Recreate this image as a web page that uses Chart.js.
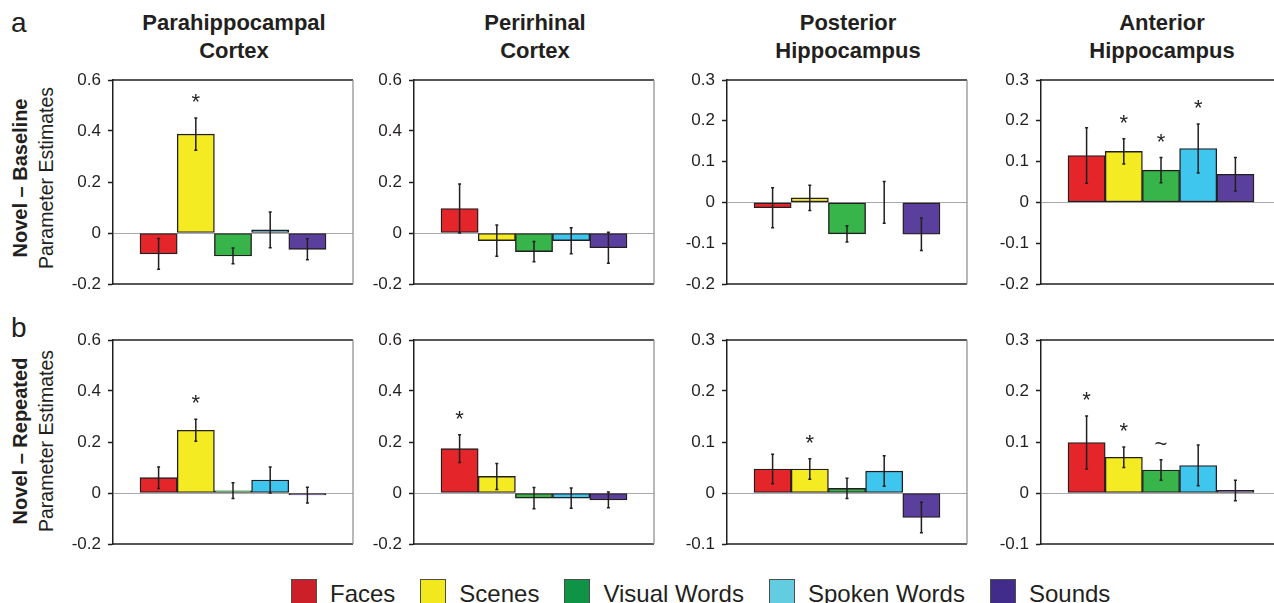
<!DOCTYPE html>
<html>
<head>
<meta charset="utf-8">
<script src="https://cdn.jsdelivr.net/npm/chart.js@4.4.1/dist/chart.umd.min.js"></script>
<style>
  body{margin:0;width:1274px;height:603px;overflow:hidden;background:#fff;position:relative;
       font-family:"Liberation Sans",Arial,sans-serif;color:#231f20}
  .abs{position:absolute}
  .title{position:absolute;width:300px;text-align:center;font-weight:bold;font-size:22px;line-height:28px;top:9px}
  .rowlab{position:absolute;width:260px;height:48px;text-align:center;line-height:24px;transform:rotate(-90deg);white-space:nowrap}
  .rowlab b{font-size:20px}
  .rowlab span{font-size:19.5px}
  .letter{position:absolute;left:11px;font-size:28px;line-height:28px}
  #legend{position:absolute;left:291px;top:579px;display:flex;white-space:nowrap}
  #legend .item{display:flex;align-items:flex-start;margin-right:25px}
  #legend .sw{width:26px;height:26px;box-sizing:border-box;border:1px solid #4d4d4d;margin-right:13px}
  #legend .tx{font-size:24px;line-height:24px;margin-top:3px}
</style>
</head>
<body>
<script>
// categories / series
const categories = ['Faces', 'Scenes', 'Visual Words', 'Spoken Words', 'Sounds'];
const regions = [['Parahippocampal', 'Cortex'], ['Perirhinal', 'Cortex'], ['Posterior', 'Hippocampus'], ['Anterior', 'Hippocampus']];
const contrasts = [['Novel – Baseline', 'Parameter Estimates'], ['Novel – Repeated', 'Parameter Estimates']];
const rowLetters = ['a', 'b'];

// row a: novel - baseline (one list per region, in category order)
const baseMeans = [
  [-0.082, 0.388, -0.090, 0.012, -0.064],
  [0.096, -0.030, -0.073, -0.030, -0.058],
  [-0.013, 0.011, -0.077, 0.000, -0.078],
  [0.115, 0.125, 0.079, 0.132, 0.069]
];
const baseErrs = [
  [0.060, 0.063, 0.031, 0.070, 0.041],
  [0.096, 0.061, 0.040, 0.051, 0.061],
  [0.049, 0.031, 0.020, 0.051, 0.040],
  [0.068, 0.031, 0.031, 0.060, 0.041]
];
const baseSig = [
  ['', '*', '', '', ''],
  ['', '', '', '', ''],
  ['', '', '', '', ''],
  ['', '*', '*', '*', '']
];

// row b: novel - repeated
const repMeans = [
  [0.060, 0.246, 0.009, 0.051, -0.008],
  [0.174, 0.065, -0.020, -0.020, -0.027],
  [0.047, 0.047, 0.009, 0.043, -0.048],
  [0.099, 0.070, 0.045, 0.054, 0.005]
];
const repErrs = [
  [0.042, 0.043, 0.031, 0.051, 0.031],
  [0.054, 0.051, 0.042, 0.040, 0.031],
  [0.029, 0.020, 0.020, 0.030, 0.030],
  [0.052, 0.020, 0.020, 0.040, 0.020]
];
const repSig = [
  ['', '*', '', '', ''],
  ['*', '', '', '', ''],
  ['', '*', '', '', ''],
  ['*', '*', '~', '', '']
];

// y tick values
const baseTicks = [[-0.2, 0, 0.2, 0.4, 0.6], [-0.2, 0, 0.2, 0.4, 0.6], [-0.2, -0.1, 0, 0.1, 0.2, 0.3], [-0.2, -0.1, 0, 0.1, 0.2, 0.3]];
const repTicks = [[-0.2, 0, 0.2, 0.4, 0.6], [-0.2, 0, 0.2, 0.4, 0.6], [-0.1, 0, 0.1, 0.2, 0.3], [-0.1, 0, 0.1, 0.2, 0.3]];

const barColors = ['#e4252a', '#f5eb22', '#37b44a', '#3ec6ee', '#5b3f9d'];
const legendColors = ['#cb2029', '#f2e81d', '#0f9347', '#62cce0', '#412c8c'];

// layout
const FONT = '"Liberation Sans", Arial, sans-serif';
const INK = '#231f20';
const plotLefts = [113, 414, 727, 1041];
const plotTops = [80, 340];
const PLOT_W = 240, PLOT_H = 204, AXIS_W = 70, PAD = 20;

function el(tag, cls, parent) {
  const e = document.createElement(tag);
  if (cls) e.className = cls;
  (parent || document.body).appendChild(e);
  return e;
}

function makePanel(row, col, means, errs, sig, ticks) {
  const wrap = el('div', 'abs');
  const w = AXIS_W + PLOT_W + 2, h = PLOT_H + 2 * PAD;
  wrap.style.left = (plotLefts[col] - AXIS_W) + 'px';
  wrap.style.top = (plotTops[row] - PAD) + 'px';
  const cv = el('canvas', null, wrap);
  cv.width = w; cv.height = h;

  const frame = {
    id: 'frame',
    beforeDatasetsDraw(chart) {
      const {ctx, chartArea: a} = chart;
      ctx.save();
      ctx.lineWidth = 1.5;
      ctx.strokeStyle = INK;
      ctx.beginPath();
      ctx.moveTo(a.left, a.top); ctx.lineTo(a.right, a.top);
      ctx.moveTo(a.left, a.bottom); ctx.lineTo(a.right, a.bottom);
      ctx.stroke();
      ctx.strokeStyle = '#8a8a8a';
      ctx.lineWidth = 1.2;
      ctx.beginPath();
      ctx.moveTo(a.right, a.top); ctx.lineTo(a.right, a.bottom);
      ctx.stroke();
      ctx.restore();
    }
  };

  const errorBars = {
    id: 'errorBars',
    afterDatasetsDraw(chart) {
      const ctx = chart.ctx, y = chart.scales.y;
      const meta = chart.getDatasetMeta(0);
      ctx.save();
      ctx.strokeStyle = INK;
      ctx.fillStyle = INK;
      ctx.lineWidth = 1.5;
      meta.data.forEach((bar, i) => {
        const v = means[i], e = errs[i];
        const top = y.getPixelForValue(v + e), bot = y.getPixelForValue(v - e);
        ctx.beginPath();
        ctx.moveTo(bar.x, top); ctx.lineTo(bar.x, bot);
        ctx.moveTo(bar.x - 1.5, top); ctx.lineTo(bar.x + 1.5, top);
        ctx.moveTo(bar.x - 1.5, bot); ctx.lineTo(bar.x + 1.5, bot);
        ctx.stroke();
        if (sig[i]) {
          ctx.font = '22px ' + FONT;
          ctx.textAlign = 'center';
          ctx.textBaseline = 'alphabetic';
          ctx.fillText(sig[i], bar.x, top - 9);
        }
      });
      ctx.restore();
    }
  };

  new Chart(cv, {
    type: 'bar',
    data: {
      labels: categories,
      datasets: [{
        data: means.map((v, i) => ({x: i, y: v})),
        backgroundColor: barColors,
        borderColor: INK,
        borderWidth: 1.4,
        borderSkipped: false,
        barPercentage: 1,
        categoryPercentage: 1
      }]
    },
    options: {
      responsive: false,
      animation: false,
      devicePixelRatio: 1,
      layout: {padding: {top: PAD, bottom: PAD, left: 0, right: 2}},
      plugins: {legend: {display: false}, tooltip: {enabled: false}},
      scales: {
        x: {type: 'linear', min: -1.226, max: 5.226, offset: false, display: false},
        y: {
          min: ticks[0], max: ticks[ticks.length - 1],
          afterBuildTicks: s => { s.ticks = ticks.map(v => ({value: v})); },
          afterFit: s => { s.width = AXIS_W; },
          ticks: {
            padding: 7, color: INK, font: {family: FONT, size: 17},
            callback: v => v === 0 ? '0' : v.toFixed(1)
          },
          grid: {
            color: c => (c.tick && c.tick.value === 0) ? '#a7a9ac' : 'rgba(0,0,0,0)',
            lineWidth: 1, drawTicks: true, tickLength: 5, tickColor: INK, tickWidth: 1.5
          },
          border: {display: true, color: INK, width: 1.5}
        }
      }
    },
    plugins: [frame, errorBars]
  });
}

// titles
regions.forEach((r, c) => {
  const t = el('div', 'title');
  t.style.left = (plotLefts[c] + PLOT_W / 2 - 150 + 1) + 'px';
  t.innerHTML = r[0] + '<br>' + r[1];
});

// row labels and letters
const rowCenters = [178, 441];
const letterTops = [9, 314];
contrasts.forEach((lab, r) => {
  const d = el('div', 'rowlab');
  d.style.left = (32 - 130) + 'px';
  d.style.top = (rowCenters[r] - 24) + 'px';
  d.innerHTML = '<b>' + lab[0] + '</b><br><span>' + lab[1] + '</span>';
  const L = el('div', 'letter');
  L.style.top = letterTops[r] + 'px';
  L.textContent = rowLetters[r];
});

// panels
for (let c = 0; c < 4; c++) {
  makePanel(0, c, baseMeans[c], baseErrs[c], baseSig[c], baseTicks[c]);
  makePanel(1, c, repMeans[c], repErrs[c], repSig[c], repTicks[c]);
}

// legend
const lg = el('div');
lg.id = 'legend';
categories.forEach((name, i) => {
  const it = el('div', 'item', lg);
  const sw = el('div', 'sw', it);
  sw.style.background = legendColors[i];
  const tx = el('div', 'tx', it);
  tx.textContent = name;
});
</script>
</body>
</html>
